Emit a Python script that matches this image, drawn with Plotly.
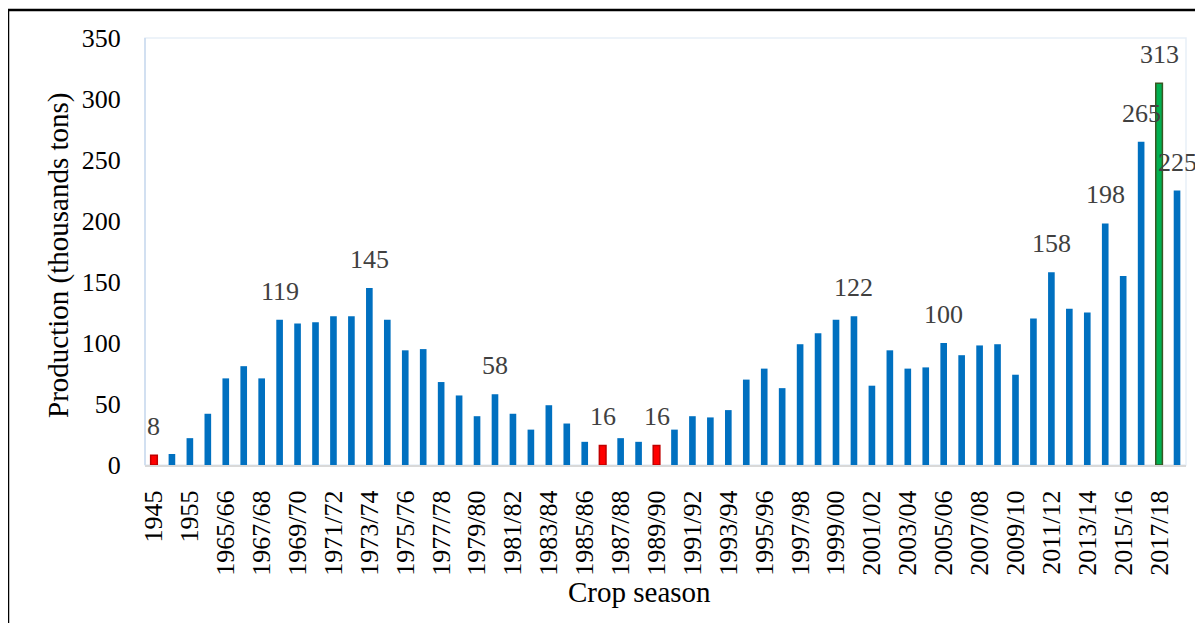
import plotly.graph_objects as go

seasons = ["1945", "1950", "1955", "1960"] + [f"{y}/{str(y + 1)[-2:]}" for y in range(1965, 2019)]

production = [8, 9, 22, 42, 71, 81, 71, 119, 116, 117, 122, 122, 145, 119, 94, 95,
              68, 57, 40, 58, 42, 29, 49, 34, 19, 16, 22, 19, 16, 29, 40, 39,
              45, 70, 79, 63, 99, 108, 119, 122, 65, 94, 79, 80, 100, 90, 98, 99,
              74, 120, 158, 128, 125, 198, 155, 265, 313, 225]

low_seasons = ["1945", "1986/87", "1989/90"]
high_seasons = ["2017/18"]

# indices of bars that carry a value label
label_idx = [0, 7, 12, 19, 25, 28, 39, 44, 50, 53, 55, 56, 57]
tick_labels = seasons[0::2]

font_family = "Liberation Serif, Times New Roman, serif"

fill, edge, edge_w = [], [], []
for s in seasons:
    if s in low_seasons:
        fill.append("#FF0000"); edge.append("#C00000"); edge_w.append(1.5)
    elif s in high_seasons:
        fill.append("#00B050"); edge.append("#385723"); edge_w.append(1.5)
    else:
        fill.append("#0070C0"); edge.append("#0070C0"); edge_w.append(0)

fig = go.Figure()
fig.add_trace(go.Bar(
    x=seasons, y=production,
    marker=dict(color=fill, line=dict(color=edge, width=edge_w)),
    width=0.37, hoverinfo="x+y",
))

annotations = []
for i in label_idx:
    annotations.append(dict(
        x=i, y=production[i], xref="x", yref="y",
        text=str(production[i]), showarrow=False,
        yanchor="bottom", xanchor="center", yshift=12,
        font=dict(family=font_family, size=26, color="#404040"),
    ))

annotations.append(dict(
    text="Crop season", xref="paper", yref="paper",
    x=(639 - 145) / 1041, y=(465 - 592) / 427,
    xanchor="center", yanchor="middle", showarrow=False,
    font=dict(family=font_family, size=29, color="#000000"),
))
annotations.append(dict(
    text="Production (thousands tons)", xref="paper", yref="paper",
    x=(58 - 145) / 1041, y=(465 - 256) / 427, textangle=-90,
    xanchor="center", yanchor="middle", showarrow=False,
    font=dict(family=font_family, size=29, color="#000000"),
))

shapes = [
    dict(type="rect", xref="paper", yref="paper", x0=0, x1=1, y0=0, y1=1,
         line=dict(color="#E8EFF8", width=1.5), layer="below"),
    dict(type="line", xref="paper", yref="paper", x0=0, x1=0, y0=0, y1=1,
         line=dict(color="#C9DAEE", width=1.5), layer="below"),
    dict(type="rect", xref="paper", yref="paper",
         x0=(8 - 145) / 1041, x1=(1215 - 145) / 1041,
         y0=(465 - 640) / 427, y1=(465 - 10) / 427,
         line=dict(color="#000000", width=2.5), layer="above"),
]

fig.update_layout(
    width=1195, height=615,
    margin=dict(l=137, r=17, t=30, b=158),
    paper_bgcolor="white", plot_bgcolor="white",
    showlegend=False,
    font=dict(family=font_family, size=26, color="#000000"),
    annotations=annotations, shapes=shapes,
    xaxis=dict(
        type="category", tickmode="array",
        tickvals=tick_labels, ticktext=tick_labels,
        tickangle=-90, ticks="outside", ticklen=13, tickcolor="rgba(0,0,0,0)",
        tickfont=dict(family=font_family, size=26, color="#000000"),
        showline=True, linecolor="#D9D9D9", linewidth=2,
        showgrid=False, zeroline=False,
        range=[-0.5, len(seasons) - 0.5],
    ),
    yaxis=dict(
        range=[0, 350], tickvals=[0, 50, 100, 150, 200, 250, 300, 350],
        ticks="outside", ticklen=18, tickcolor="rgba(0,0,0,0)",
        tickfont=dict(family=font_family, size=26, color="#000000"),
        showline=False, showgrid=False, zeroline=False,
    ),
)

fig.write_html("out.html")
